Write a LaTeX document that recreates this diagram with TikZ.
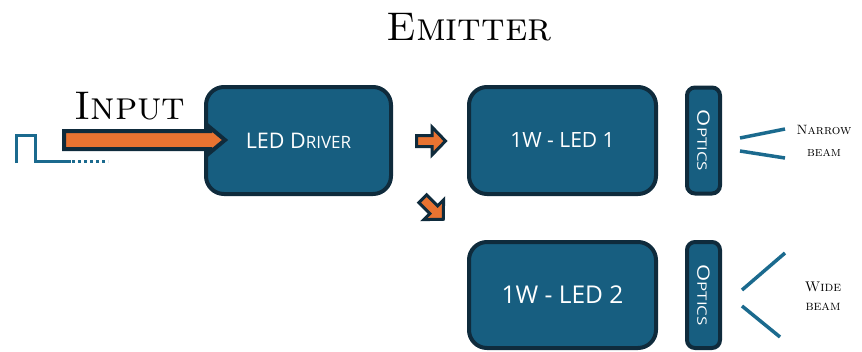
\documentclass[tikz,border=0pt]{standalone}
\usepackage{fontspec}
\setsansfont{Open Sans}
\definecolor{boxfill}{HTML}{175E80}
\definecolor{boxline}{HTML}{0F2B3C}
\definecolor{signal}{HTML}{1B6A8E}
\definecolor{orng}{HTML}{E97331}
% sans text with a hand-made small-caps tail
\newcommand{\fakesc}[4]{{\fontsize{#1}{#1}\selectfont #3}{\fontsize{#2}{#2}\selectfont #4}}
\tikzset{
  block/.style={draw=boxline, line width=4pt, fill=boxfill, rounded corners=18pt,
    text=white, font=\sffamily, inner sep=0pt},
  optic/.style={block, rounded corners=8pt, minimum width=33pt, minimum height=106pt},
  bigarrow/.style={draw=boxline, line width=4pt, fill=orng, line join=miter},
  smallarrow/.style={draw=boxline, line width=3pt, fill=orng, line join=miter},
  beamline/.style={draw=signal, line width=3.5pt},
  pulse/.style={draw=signal, line width=3pt},
  caption/.style={font=\rmfamily, align=center, inner sep=0pt}
}
\begin{document}
\begin{tikzpicture}[x=1pt,y=-1pt]
\useasboundingbox (0,0) rectangle (862,351);

% title and input label
\node[caption, font=\fontsize{40}{40}\selectfont\scshape] (title) at (469,27) {Emitter};
\node[caption, font=\fontsize{40}{40}\selectfont\scshape] (inlabel) at (130,106) {Input};

% main blocks
\node[block, minimum width=185pt, minimum height=107pt] (driver) at (298.5,140.5)
  {\fakesc{21.5}{17}{LED D}{RIVER}};
\node[block, minimum width=187pt, minimum height=107pt] (led1) at (562.5,140.5)
  {\fontsize{21}{21}\selectfont 1W - LED 1};
\node[block, minimum width=187pt, minimum height=106pt] (led2) at (562.5,295)
  {\fontsize{24.5}{24.5}\selectfont 1W - LED 2};
\node[optic] (opt1) at (703.5,140.5)
  {\rotatebox{-90}{\scalebox{1.3}[1]{\fakesc{17}{13}{O}{PTICS}}}};
\node[optic] (opt2) at (703.5,295)
  {\rotatebox{-90}{\scalebox{1.3}[1]{\fakesc{17}{13}{O}{PTICS}}}};

% input pulse
\coordinate (p0) at (16,163);
\draw[pulse] (p0) -- ++(0,-28) -- ++(19,0) -- ++(0,26) -- ++(36,0);
\draw[pulse, dash pattern=on 3pt off 3pt] (72,161) -- (108,161);

% input arrow into the driver
\draw[bigarrow] (64,131) -- (210,131) -- (210,127.5) -- (225,140) -- (210,152.5)
  -- (210,149) -- (64,149) -- cycle;

% small arrows from the driver to the two LEDs
\coordinate (a1) at (431,141);
\coordinate (a2) at (433,209);
\draw[smallarrow, shift={(a1)}] (-14.5,-5.5) -- (1,-5.5) -- (1,-14) -- (14.5,0)
  -- (1,14) -- (1,5.5) -- (-14.5,5.5) -- cycle;
\draw[smallarrow, shift={(a2)}, rotate=-45] (-14.5,-5.5) -- (1,-5.5) -- (1,-14) -- (14.5,0)
  -- (1,14) -- (1,5.5) -- (-14.5,5.5) -- cycle;

% beams
\draw[beamline] (740,138) -- (785,129);
\draw[beamline] (740,151) -- (785,158);
\draw[beamline] (742,290) -- (785,253);
\draw[beamline] (742,306) -- (780,337);

\node[caption, font=\fontsize{13.5}{16.5}\selectfont\scshape] (narrow) at (824,141)
  {Narrow\\[6pt] beam};
\node[caption, font=\fontsize{14}{17}\selectfont\scshape] (wide) at (823,296)
  {Wide\\[2pt] beam};
\end{tikzpicture}
\end{document}
